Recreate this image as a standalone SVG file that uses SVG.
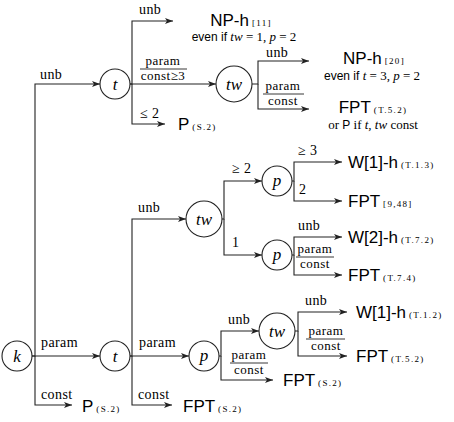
<svg xmlns="http://www.w3.org/2000/svg" width="454" height="422" viewBox="0 0 454 422">
<defs>
<marker id="ah" viewBox="0 0 8 6" refX="8" refY="3" markerWidth="8" markerHeight="6" markerUnits="userSpaceOnUse" orient="auto"><path d="M0,0 L8,3 L0,6 L2,3 z" fill="#222"/></marker>
</defs>
<style>
.c{fill:#fff;stroke:#222;stroke-width:1.1}
.e{fill:none;stroke:#222;stroke-width:1.1;marker-end:url(#ah)}
.fl{stroke:#222;stroke-width:0.9}
.n{font-family:"Liberation Serif",serif;font-style:italic;font-size:17px;text-anchor:middle;fill:#000}
.l{font-family:"Liberation Serif",serif;font-size:14px;letter-spacing:0.4px;fill:#000}
.fr{font-family:"Liberation Serif",serif;font-size:13px;letter-spacing:0.5px;text-anchor:middle;fill:#000}
.r{font-family:"Liberation Sans",Arial,sans-serif;font-size:17px;fill:#000}
.ct{font-family:"Liberation Serif",serif;font-size:9px;letter-spacing:1.3px}
.s{font-family:"Liberation Sans",Arial,sans-serif;font-size:12px}
.m{font-family:"Liberation Serif",serif;font-size:13px}
.i{font-style:italic}
</style>

<g id="connectors">
  <!-- k -->
  <path class="e" d="M32,356 H35 V84 H100"/>
  <path class="e" d="M32,356 H100"/>
  <path class="e" d="M35,356 V405 H72"/>
  <!-- t top -->
  <path class="e" d="M130,84 H132 V21 H173"/>
  <path class="e" d="M130,84 H216"/>
  <path class="e" d="M132,84 V124 H165"/>
  <!-- tw top -->
  <path class="e" d="M252,84 H258 V61 H309"/>
  <path class="e" d="M258,84 V109 H309"/>
  <!-- t bottom -->
  <path class="e" d="M130,356 H132 V219 H186"/>
  <path class="e" d="M130,356 H189"/>
  <path class="e" d="M132,356 V405 H172"/>
  <!-- tw middle -->
  <path class="e" d="M222,219 H224 V181 H262"/>
  <path class="e" d="M224,219 V255 H262"/>
  <!-- p upper -->
  <path class="e" d="M292,181 H294 V162 H342"/>
  <path class="e" d="M294,181 V201 H342"/>
  <!-- p lower -->
  <path class="e" d="M292,255 H294 V237 H342"/>
  <path class="e" d="M294,255 V275 H342"/>
  <!-- p bottom -->
  <path class="e" d="M219,356 H221 V331 H259"/>
  <path class="e" d="M221,356 V380 H273"/>
  <!-- tw bottom -->
  <path class="e" d="M295,331 H298 V312 H347"/>
  <path class="e" d="M298,331 V356 H347"/>

  <!-- edge labels -->
  <text class="l" x="40" y="79">unb</text>
  <text class="l" x="41" y="347">param</text>
  <text class="l" x="41" y="399">const</text>
  <text class="l" x="139" y="14">unb</text>
  <g><text class="fr" x="163" y="65">param</text><line class="fl" x1="140" y1="69" x2="187" y2="69"/><text class="fr" x="163" y="80">const≥3</text></g>
  <text class="l" x="140" y="118">≤ 2</text>
  <text class="l" x="266" y="57">unb</text>
  <g><text class="fr" x="283" y="90">param</text><line class="fl" x1="263" y1="94" x2="304" y2="94"/><text class="fr" x="283" y="105">const</text></g>
  <text class="l" x="138" y="212">unb</text>
  <text class="l" x="139" y="347">param</text>
  <text class="l" x="138" y="399">const</text>
  <text class="l" x="232" y="173">≥ 2</text>
  <text class="l" x="232" y="247">1</text>
  <text class="l" x="298" y="155">≥ 3</text>
  <text class="l" x="299" y="194">2</text>
  <text class="l" x="298" y="230">unb</text>
  <g><text class="fr" x="315" y="253">param</text><line class="fl" x1="296" y1="257" x2="334" y2="257"/><text class="fr" x="315" y="268">const</text></g>
  <text class="l" x="228" y="324">unb</text>
  <g><text class="fr" x="249" y="359">param</text><line class="fl" x1="230" y1="363" x2="268" y2="363"/><text class="fr" x="249" y="374">const</text></g>
  <text class="l" x="305" y="305">unb</text>
  <g><text class="fr" x="326" y="335">param</text><line class="fl" x1="306" y1="339" x2="345" y2="339"/><text class="fr" x="326" y="350">const</text></g>
</g>

<g id="node-k"><circle class="c" cx="17" cy="356" r="15"/><text class="n" x="17" y="362">k</text></g>
<g id="node-t-top"><circle class="c" cx="115" cy="84" r="15"/><text class="n" x="115" y="90">t</text></g>
<g id="node-tw-top"><circle class="c" cx="234" cy="84" r="18"/><text class="n" x="234" y="90">tw</text></g>
<g id="node-t-bottom"><circle class="c" cx="115" cy="356" r="15"/><text class="n" x="115" y="362">t</text></g>
<g id="node-tw-mid"><circle class="c" cx="204" cy="219" r="18"/><text class="n" x="204" y="225">tw</text></g>
<g id="node-p-upper"><circle class="c" cx="277" cy="181" r="15"/><text class="n" x="277" y="186">p</text></g>
<g id="node-p-lower"><circle class="c" cx="277" cy="255" r="15"/><text class="n" x="277" y="260">p</text></g>
<g id="node-p-bottom"><circle class="c" cx="204" cy="356" r="15"/><text class="n" x="204" y="361">p</text></g>
<g id="node-tw-bottom"><circle class="c" cx="277" cy="331" r="18"/><text class="n" x="277" y="337">tw</text></g>

<g id="res-nph-11">
  <text class="r" x="241" y="26" text-anchor="middle">NP-h<tspan class="ct" dx="3">[11]</tspan></text>
  <text x="244" y="41" text-anchor="middle"><tspan class="s">even if </tspan><tspan class="m i">tw</tspan><tspan class="m"> = 1, </tspan><tspan class="m i">p</tspan><tspan class="m"> = 2</tspan></text>
</g>
<g id="res-p-top"><text class="r" x="178" y="130">P<tspan class="ct" dx="3">(S.2)</tspan></text></g>
<g id="res-nph-20">
  <text class="r" x="374" y="64" text-anchor="middle">NP-h<tspan class="ct" dx="3">[20]</tspan></text>
  <text x="372" y="80" text-anchor="middle"><tspan class="s">even if </tspan><tspan class="m i">t</tspan><tspan class="m"> = 3, </tspan><tspan class="m i">p</tspan><tspan class="m"> = 2</tspan></text>
</g>
<g id="res-fpt-top">
  <text class="r" x="373" y="113" text-anchor="middle">FPT<tspan class="ct" dx="3">(T.5.2)</tspan></text>
  <text x="373" y="129" text-anchor="middle"><tspan class="m">or </tspan><tspan class="s">P</tspan><tspan class="m"> if </tspan><tspan class="m i">t, tw</tspan><tspan class="m"> const</tspan></text>
</g>
<g id="res-w1h-a"><text class="r" x="348" y="168">W[1]-h<tspan class="ct" dx="3">(T.1.3)</tspan></text></g>
<g id="res-fpt-948"><text class="r" x="348" y="207">FPT<tspan class="ct" dx="3">[9,48]</tspan></text></g>
<g id="res-w2h"><text class="r" x="348" y="243">W[2]-h<tspan class="ct" dx="3">(T.7.2)</tspan></text></g>
<g id="res-fpt-t74"><text class="r" x="348" y="281">FPT<tspan class="ct" dx="3">(T.7.4)</tspan></text></g>
<g id="res-w1h-b"><text class="r" x="356" y="318">W[1]-h<tspan class="ct" dx="3">(T.1.2)</tspan></text></g>
<g id="res-fpt-t52"><text class="r" x="356" y="362">FPT<tspan class="ct" dx="3">(T.5.2)</tspan></text></g>
<g id="res-fpt-s2-a"><text class="r" x="283" y="386">FPT<tspan class="ct" dx="3">(S.2)</tspan></text></g>
<g id="res-p-bottom"><text class="r" x="82" y="412">P<tspan class="ct" dx="3">(S.2)</tspan></text></g>
<g id="res-fpt-s2-b"><text class="r" x="183" y="412">FPT<tspan class="ct" dx="3">(S.2)</tspan></text></g>
</svg>
